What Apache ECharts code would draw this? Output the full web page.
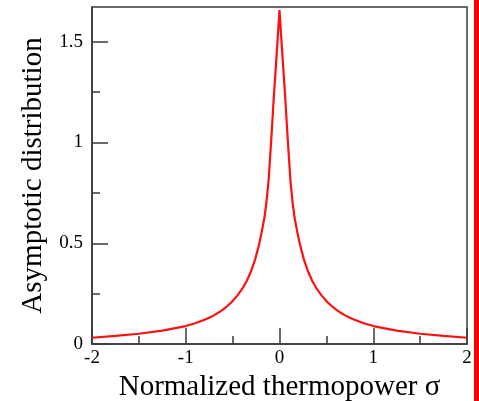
<!DOCTYPE html>
<html>
<head>
<meta charset="utf-8">
<script src="https://cdn.jsdelivr.net/npm/echarts@6/dist/echarts.min.js"></script>
<style>html,body{margin:0;padding:0;background:#fff;}#c{width:479px;height:401px;}</style>
</head>
<body>
<div id="c"></div>
<script>
var sigma = [-2, -1.75, -1.5, -1.25, -1, -0.9, -0.8, -0.75, -0.7, -0.65, -0.6, -0.55, -0.5, -0.45, -0.4, -0.35, -0.3, -0.26, -0.22, -0.19, -0.16, -0.14, -0.116, -0.09, -0.06, -0.03, 0,
             0.03, 0.06, 0.09, 0.116, 0.14, 0.16, 0.19, 0.22, 0.26, 0.3, 0.35, 0.4, 0.45, 0.5, 0.55, 0.6, 0.65, 0.7, 0.75, 0.8, 0.9, 1, 1.25, 1.5, 1.75, 2];
var density = [0.031, 0.040, 0.051, 0.066, 0.089, 0.103, 0.120, 0.130, 0.142, 0.156, 0.172, 0.191, 0.213, 0.240, 0.272, 0.313, 0.365, 0.42, 0.49, 0.555, 0.63, 0.70, 0.814, 1.00, 1.23, 1.44, 1.657,
               1.44, 1.23, 1.00, 0.814, 0.70, 0.63, 0.555, 0.49, 0.42, 0.365, 0.313, 0.272, 0.240, 0.213, 0.191, 0.172, 0.156, 0.142, 0.130, 0.120, 0.103, 0.089, 0.066, 0.051, 0.040, 0.031];
var yMajorTicks = [0, 0.5, 1, 1.5];
var yMinorTicks = [0.25, 0.75, 1.25];
var xTitle = 'Normalized thermopower σ';
var yTitle = 'Asymptotic distribution';

var pts = sigma.map(function (s, i) { return [s, density[i]]; });
var axisColor = '#3a3a3a';
var font = 'Liberation Serif';
var chart = echarts.init(document.getElementById('c'), null, {renderer: 'canvas'});
chart.setOption({
  animation: false,
  backgroundColor: '#fff',
  grid: {left: 92, right: 12, top: 7, bottom: 57, containLabel: false, outerBoundsMode: 'none',
         show: true, borderColor: axisColor, borderWidth: 1.5, backgroundColor: 'transparent'},
  xAxis: {
    type: 'value', min: -2, max: 2, interval: 1,
    name: xTitle, nameLocation: 'middle', nameGap: 28,
    nameTextStyle: {fontFamily: font, fontSize: 29, color: '#000'},
    axisLine: {show: true, onZero: false, lineStyle: {color: axisColor, width: 1.5}},
    axisTick: {show: true, inside: true, length: 16, lineStyle: {color: axisColor, width: 1.5}},
    minorTick: {show: true, splitNumber: 2, length: 8, lineStyle: {color: axisColor, width: 1.5}},
    splitLine: {show: false},
    axisLabel: {fontFamily: font, fontSize: 19, color: '#000', margin: 5}
  },
  yAxis: [{
    type: 'value', min: 0, max: 1.6725,
    name: yTitle, nameLocation: 'middle', nameGap: 43,
    nameTextStyle: {fontFamily: font, fontSize: 29, color: '#000'},
    axisLine: {show: true, onZero: false, lineStyle: {color: axisColor, width: 1.5}},
    axisTick: {show: true, inside: true, length: 16, customValues: yMajorTicks, lineStyle: {color: axisColor, width: 1.5}},
    splitLine: {show: false},
    axisLabel: {fontFamily: font, fontSize: 19, color: '#000', margin: 9, customValues: yMajorTicks}
  }, {
    type: 'value', min: 0, max: 1.6725, position: 'left',
    axisLine: {show: false, onZero: false},
    axisTick: {show: true, inside: true, length: 8, customValues: yMinorTicks, lineStyle: {color: axisColor, width: 1.5}},
    splitLine: {show: false},
    axisLabel: {show: false}
  }],
  series: [{
    type: 'line', data: pts, showSymbol: false, smooth: false,
    lineStyle: {color: '#ff1010', width: 2.2}, z: 3
  }],
  graphic: [{
    type: 'rect', shape: {x: 474, y: 0, width: 5, height: 401},
    style: {fill: '#ff0000'}, z: 100
  }]
});
</script>
</body>
</html>
